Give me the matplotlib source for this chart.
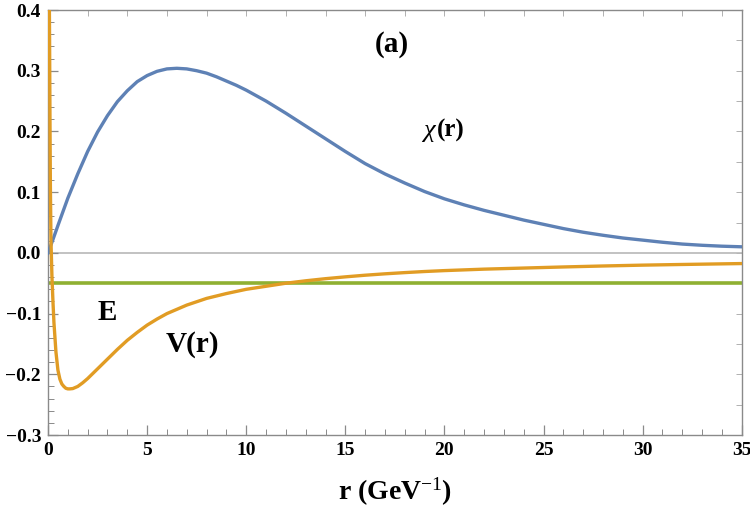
import matplotlib
matplotlib.use("Agg")
import matplotlib.pyplot as plt
import numpy as np
from matplotlib.ticker import MultipleLocator

# ---- data ----
chi_r = [0.0, 0.25, 0.5, 1.0, 1.5, 2.0, 2.5, 3.0, 3.5, 4.0, 4.5, 5.0, 5.5, 6.0,
         6.5, 7.0, 7.5, 8.0, 8.5, 9.0, 9.5, 10, 11, 12, 13, 14, 15, 16, 17, 18,
         19, 20, 21, 22, 23, 24, 25, 26, 27, 28, 29, 30, 31, 32, 33, 34, 35]
chi_v = [0.0, 0.022, 0.045, 0.09, 0.13, 0.167, 0.199, 0.226, 0.249, 0.267, 0.282,
         0.292, 0.299, 0.303, 0.304, 0.303, 0.300, 0.296, 0.290, 0.283, 0.276,
         0.268, 0.250, 0.230, 0.209, 0.188, 0.167, 0.147, 0.130, 0.115, 0.101,
         0.089, 0.079, 0.070, 0.062, 0.054, 0.047, 0.040, 0.034, 0.029, 0.0245,
         0.021, 0.0175, 0.0145, 0.0125, 0.011, 0.0100]

pot_r = [0.06, 0.08, 0.1, 0.12, 0.15, 0.2, 0.25, 0.3, 0.4, 0.5, 0.6, 0.7, 0.8,
         0.9, 1.0, 1.1, 1.25, 1.5, 1.75, 2.0, 2.5, 3.0, 3.5, 4.0, 4.5, 5.0, 5.5,
         6.0, 7, 8, 9, 10, 11, 12, 13, 14, 15, 16, 17, 18, 19, 20, 22, 24, 26,
         28, 30, 32, 35]
pot_v = [0.45, 0.35, 0.22, 0.11, 0.02, -0.04, -0.08, -0.115, -0.163, -0.193,
         -0.208, -0.216, -0.220, -0.223, -0.224, -0.224, -0.2235, -0.220,
         -0.214, -0.207, -0.191, -0.175, -0.159, -0.144, -0.131, -0.119, -0.109,
         -0.100, -0.086, -0.075, -0.067, -0.060, -0.055, -0.050, -0.046, -0.0425,
         -0.0395, -0.0368, -0.0345, -0.0325, -0.0307, -0.0292, -0.0268, -0.0250,
         -0.0232, -0.0216, -0.0202, -0.0191, -0.0176]

energy = -0.05
x_range = [0, 35]

# ---- styling ----
plt.rcParams['font.family'] = ['Liberation Serif', 'DejaVu Serif']
plt.rcParams['mathtext.fontset'] = 'custom'
plt.rcParams['mathtext.rm'] = 'Liberation Serif'
plt.rcParams['mathtext.bf'] = 'Liberation Serif:bold'
plt.rcParams['mathtext.it'] = 'Liberation Serif:italic'

blue = '#5E81B5'
orange = '#E19C24'
green = '#8FB032'
frame = '#8a8a8a'

fig = plt.figure(figsize=(7.5, 5.13), dpi=100)
ax = fig.add_axes([0.064, 0.152, 0.925, 0.8285])

ax.axhline(0, color='#b8b8b8', lw=1.2, zorder=1)
ax.plot(chi_r, chi_v, color=blue, lw=2.4, zorder=3, solid_joinstyle='round')
ax.plot(pot_r, pot_v, color=orange, lw=2.4, zorder=3, solid_joinstyle='round')
ax.plot(x_range, [energy, energy], color=green, lw=2.6, zorder=2)

ax.set_xlim(0, 35)
ax.set_ylim(-0.3, 0.4)

ax.xaxis.set_minor_locator(MultipleLocator(1))
ax.yaxis.set_minor_locator(MultipleLocator(0.02))
ax.tick_params(which='both', direction='in', color=frame, top=False, right=False)
ax.tick_params(which='major', length=7, width=0.9, labelsize=14, pad=5)
ax.tick_params(which='minor', length=4, width=0.7)
yt = np.round(np.arange(-0.3, 0.41, 0.1), 1)
ax.set_yticks(yt)
ax.set_yticklabels([('\u2212' if v < 0 else '') + f"{abs(v):.1f}" for v in yt],
                   fontweight='bold')
ax.set_xticks(np.arange(0, 36, 5))
ax.set_xticklabels([str(v) for v in range(0, 36, 5)], fontweight='bold')

for sp in ax.spines.values():
    sp.set_color(frame)
    sp.set_linewidth(1.0)

# top / right faint ticks
secx = ax.secondary_xaxis('top')
secx.set_xticks(np.arange(0, 36, 2))
secx.tick_params(direction='in', length=4, color='#b0b0b0', labeltop=False, width=0.7)
secx.spines['top'].set_visible(False)
secy = ax.secondary_yaxis('right')
secy.set_yticks(np.arange(-0.3, 0.41, 0.05))
secy.tick_params(direction='in', length=4, color='#b0b0b0', labelright=False, width=0.7)
secy.spines['right'].set_visible(False)

ax.set_xlabel('r (GeV$^{\\mathrm{\u22121}}$)', fontsize=20, fontweight='bold', labelpad=12)

ax.text(392 / 750, 1 - 45 / 513, '(a)', transform=fig.transFigure, fontsize=21,
        fontweight='bold', ha='center', va='center')
ax.text(435 / 750, 1 - 131 / 513, '\u03c7', transform=fig.transFigure,
        fontsize=19, style='italic', ha='right', va='center')
ax.text(437 / 750, 1 - 130 / 513, '(r)', transform=fig.transFigure,
        fontsize=18, fontweight='bold', ha='left', va='center')
ax.text(107 / 750, 1 - 312 / 513, 'E', transform=fig.transFigure, fontsize=21,
        fontweight='bold', ha='center', va='center')
ax.text(192 / 750, 1 - 345 / 513, 'V(r)', transform=fig.transFigure, fontsize=21,
        fontweight='bold', ha='center', va='center')

fig.savefig('out.png', dpi=100)
